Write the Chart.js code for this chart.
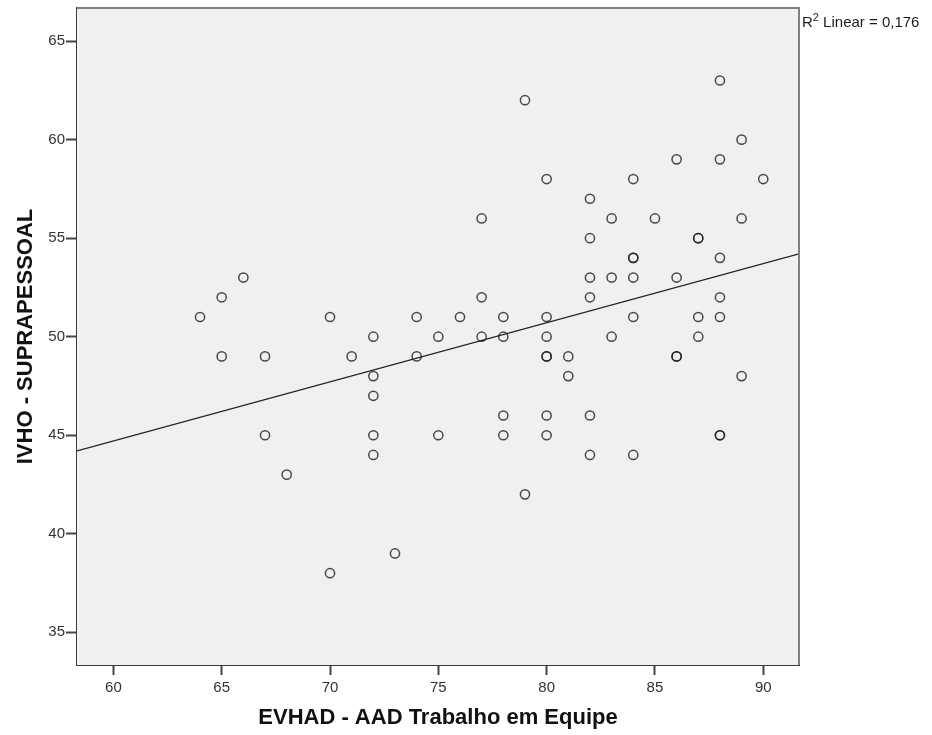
<!DOCTYPE html>
<html>
<head>
<meta charset="utf-8">
<script src="https://cdn.jsdelivr.net/npm/chart.js@4/dist/chart.umd.min.js"></script>
<style>
  body { margin: 0; background: #fff; }
  #wrap { width: 932px; height: 735px; }
</style>
</head>
<body>
<div id="wrap"><canvas id="scatter" width="932" height="735"></canvas></div>
<script>
// EVHAD - AAD Trabalho em Equipe (x) vs IVHO - SUPRAPESSOAL (y)
const evhad = [
    64, 65, 65, 66, 67, 67, 68, 70, 70, 71,
    72, 72, 72, 72, 72, 73, 74, 74, 75, 75,
    76, 77, 77, 77, 78, 78, 78, 78, 79, 79,
    80, 80, 80, 80, 80, 80, 80, 81, 81,
    82, 82, 82, 82, 82, 82, 83, 83, 83,
    84, 84, 84, 84, 84, 84, 85, 86, 86, 86, 86,
    87, 87, 87, 87, 88, 88, 88, 88, 88, 88, 88,
    89, 89, 89, 90
];
const ivho = [
    51, 52, 49, 53, 49, 45, 43, 51, 38, 49,
    50, 48, 47, 45, 44, 39, 51, 49, 50, 45,
    51, 56, 52, 50, 51, 50, 46, 45, 62, 42,
    58, 51, 50, 49, 49, 46, 45, 49, 48,
    57, 55, 53, 52, 46, 44, 56, 53, 50,
    58, 54, 54, 53, 51, 44, 56, 59, 53, 49, 49,
    55, 55, 51, 50, 63, 59, 54, 52, 51, 45, 45,
    60, 56, 48, 58
];

const xTicks = [60, 65, 70, 75, 80, 85, 90];
const yTicks = [35, 40, 45, 50, 55, 60, 65];
const xBounds = [58.32, 91.65];
const yBounds = [33.34, 66.68];
const r2Label = '0,176';

// least squares fit line
function linearFit(xs, ys) {
    const n = xs.length;
    const mx = xs.reduce((a, b) => a + b, 0) / n;
    const my = ys.reduce((a, b) => a + b, 0) / n;
    let sxy = 0, sxx = 0;
    for (let i = 0; i < n; i++) {
        sxy += (xs[i] - mx) * (ys[i] - my);
        sxx += (xs[i] - mx) * (xs[i] - mx);
    }
    const slope = sxy / sxx;
    return { slope, intercept: my - slope * mx };
}

const fit = linearFit(evhad, ivho);
const points = evhad.map((x, i) => ({ x, y: ivho[i] }));
const fitLine = xBounds.map(x => ({ x, y: fit.intercept + fit.slope * x }));

const FONT = "'Liberation Sans', Arial, sans-serif";

const frame = {
    id: 'frame',
    beforeDatasetsDraw(chart) {
        const { ctx, chartArea: a } = chart;
        ctx.save();
        ctx.fillStyle = '#f0f0f0';
        ctx.fillRect(a.left, a.top, a.right - a.left, a.bottom - a.top);
        ctx.restore();
    },
    afterDraw(chart) {
        const { ctx, chartArea: a } = chart;
        ctx.save();
        ctx.strokeStyle = '#808080';
        ctx.lineWidth = 2;
        ctx.beginPath();
        ctx.moveTo(a.left, a.top);
        ctx.lineTo(a.right, a.top);
        ctx.lineTo(a.right, a.bottom);
        ctx.stroke();

        // R² label
        ctx.fillStyle = '#1a1a1a';
        ctx.textBaseline = 'alphabetic';
        let x = a.right + 3;
        const y = a.top + 19;
        ctx.font = '15px ' + FONT;
        ctx.fillText('R', x, y);
        x += ctx.measureText('R').width;
        ctx.font = '11px ' + FONT;
        ctx.fillText('2', x, y - 6);
        x += ctx.measureText('2').width;
        ctx.font = '15px ' + FONT;
        ctx.fillText(' Linear = ' + r2Label, x, y);
        ctx.restore();
    }
};

new Chart(document.getElementById('scatter'), {
    type: 'scatter',
    data: {
        datasets: [{
            data: points,
            pointStyle: 'circle',
            pointRadius: 4.6,
            pointBorderWidth: 1.5,
            pointBorderColor: 'rgba(25,25,25,0.78)',
            pointBackgroundColor: 'rgba(0,0,0,0)',
            pointHoverRadius: 4.6
        }, {
            type: 'line',
            data: fitLine,
            borderColor: '#222',
            borderWidth: 1.2,
            pointRadius: 0,
            fill: false
        }]
    },
    options: {
        responsive: false,
        animation: false,
        devicePixelRatio: 1,
        layout: { padding: { top: 8, right: 133, left: 0, bottom: 0 } },
        plugins: {
            legend: { display: false },
            tooltip: { enabled: false }
        },
        scales: {
            x: {
                type: 'linear',
                min: xBounds[0],
                max: xBounds[1],
                afterBuildTicks: s => { s.ticks = xTicks.map(value => ({ value })); },
                afterFit: s => { s.height = 70; s.paddingLeft = 0; s.paddingRight = 0; },
                ticks: { font: { family: FONT, size: 15 }, color: '#333', padding: 4 },
                grid: { drawOnChartArea: false, drawTicks: true, tickLength: 10, tickColor: '#444', tickWidth: 2 },
                border: { display: true, color: '#3c3c3c', width: 2 },
                title: {
                    display: true,
                    text: 'EVHAD - AAD Trabalho em Equipe',
                    font: { family: FONT, size: 22, weight: 'bold' },
                    color: '#111',
                    padding: { top: 0, bottom: 4 }
                }
            },
            y: {
                type: 'linear',
                min: yBounds[0],
                max: yBounds[1],
                afterBuildTicks: s => { s.ticks = yTicks.map(value => ({ value })); },
                afterFit: s => { s.width = 77; s.paddingTop = 0; s.paddingBottom = 0; },
                ticks: { font: { family: FONT, size: 15 }, color: '#333', padding: 1 },
                grid: { drawOnChartArea: false, drawTicks: true, tickLength: 11, tickColor: '#444', tickWidth: 2 },
                border: { display: true, color: '#3c3c3c', width: 2 },
                title: {
                    display: true,
                    text: 'IVHO - SUPRAPESSOAL',
                    font: { family: FONT, size: 22, weight: 'bold' },
                    color: '#111',
                    padding: { top: 13, bottom: 0 }
                }
            }
        }
    },
    plugins: [frame]
});
</script>
</body>
</html>
